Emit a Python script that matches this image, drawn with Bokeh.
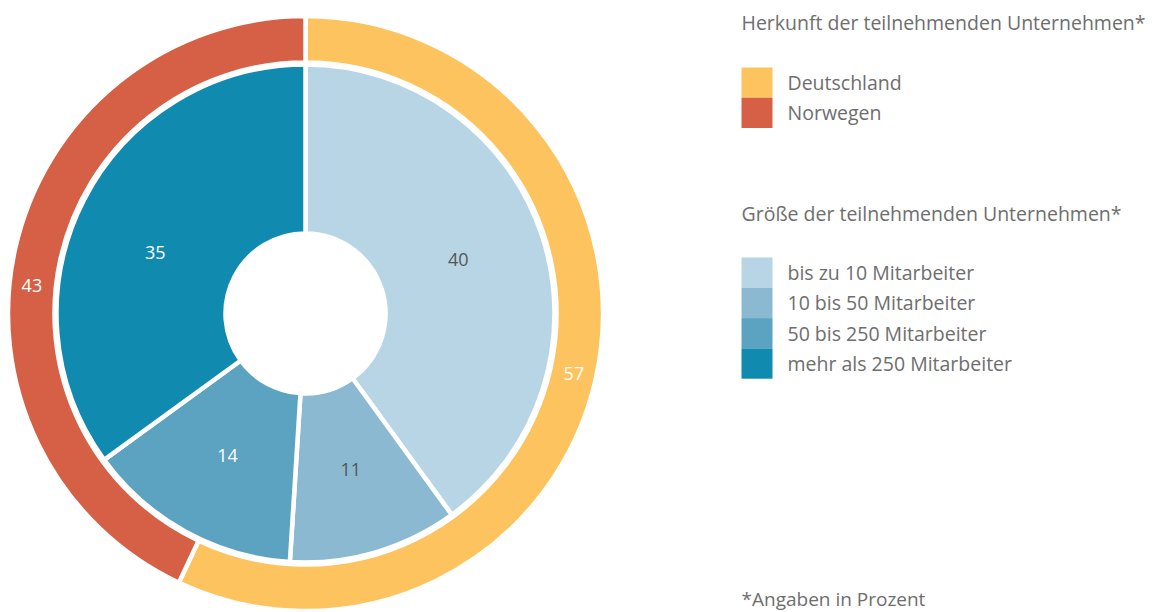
import numpy as np
from bokeh.plotting import figure
from bokeh.models import Range1d
from bokeh.core.properties import value
from bokeh.embed import file_html
from bokeh.resources import INLINE

# ---- data ----
origin_labels = ["Deutschland", "Norwegen"]
origin_values = [57, 43]
origin_colors = ["#FCC35F", "#D66045"]

size_labels = ["bis zu 10 Mitarbeiter", "10 bis 50 Mitarbeiter", "50 bis 250 Mitarbeiter", "mehr als 250 Mitarbeiter"]
size_values = [40, 11, 14, 35]
size_colors = ["#B7D5E5", "#8BB9D1", "#5BA3C1", "#118AB0"]
size_label_colors = ["#555555", "#555555", "#FFFFFF", "#FFFFFF"]

title_origin = "Herkunft der teilnehmenden Unternehmen*"
title_size = "Größe der teilnehmenden Unternehmen*"
footnote = "*Angaben in Prozent"

# layout: small angular nudges (degrees) for value labels
origin_label_nudge = [0, 6.8]
size_label_nudge = [1.5, 0, 0, 5]

W, H = 1153, 612
FONT = value("Open Sans")
GREY = "#6E6E6E"

p = figure(width=W, height=H, output_backend="svg", toolbar_location=None,
           x_range=Range1d(0, W), y_range=Range1d(0, H), min_border=0)
p.axis.visible = False
p.grid.visible = False
p.outline_line_color = None
p.background_fill_color = "white"
p.border_fill_color = "white"

cx, cy = 305, H - 313


def angles(vals):
    v = np.array(vals, dtype=float)
    frac = v / v.sum()
    cum = np.concatenate([[0], np.cumsum(frac)])
    start = np.pi / 2 - 2 * np.pi * cum[:-1]
    end = np.pi / 2 - 2 * np.pi * cum[1:]
    mid = (start + end) / 2
    return start, end, mid


lw = 4.5
# outer ring
s, e, m = angles(origin_values)
m = m + np.radians(origin_label_nudge)
p.annular_wedge(x=cx, y=cy, inner_radius=251, outer_radius=297.5,
                start_angle=s, end_angle=e, direction="clock",
                fill_color=origin_colors, line_color="white", line_width=lw)
p.text(x=cx + 275 * np.cos(m), y=cy + 275 * np.sin(m), text=[str(v) for v in origin_values],
       text_font=FONT, text_font_size="18px", text_color="white",
       text_align="center", text_baseline="middle")

# inner pie
s2, e2, m2 = angles(size_values)
m2 = m2 + np.radians(size_label_nudge)
p.annular_wedge(x=cx, y=cy, inner_radius=80, outer_radius=249,
                start_angle=s2, end_angle=e2, direction="clock",
                fill_color=size_colors, line_color="white", line_width=lw)
p.text(x=cx + 162 * np.cos(m2), y=cy + 162 * np.sin(m2), text=[str(v) for v in size_values],
       text_font=FONT, text_font_size="18px", text_color=size_label_colors,
       text_align="center", text_baseline="middle")

# legends
lx = 741
sq = 31
row = 30.3


def legend(title, title_y, labels, colors, first_y):
    p.text(x=[lx], y=[H - title_y], text=[title], text_font=FONT, text_font_size="19.5px",
           text_color=GREY, text_align="left", text_baseline="middle")
    tops = [first_y + i * row for i in range(len(labels))]
    p.quad(left=lx, right=lx + sq, top=[H - t for t in tops], bottom=[H - t - row for t in tops],
           fill_color=colors, line_color=None)
    p.text(x=[lx + 46] * len(labels), y=[H - t - row / 2 for t in tops], text=labels,
           text_font=FONT, text_font_size="19.5px", text_color=GREY,
           text_align="left", text_baseline="middle")


legend(title_origin, 22, origin_labels, origin_colors, 67)
legend(title_size, 213, size_labels, size_colors, 257)

p.text(x=[lx], y=[H - 598], text=[footnote], text_font=FONT, text_font_size="19px",
       text_color=GREY, text_align="left", text_baseline="middle")

open("out.html", "w").write(file_html(p, INLINE))
